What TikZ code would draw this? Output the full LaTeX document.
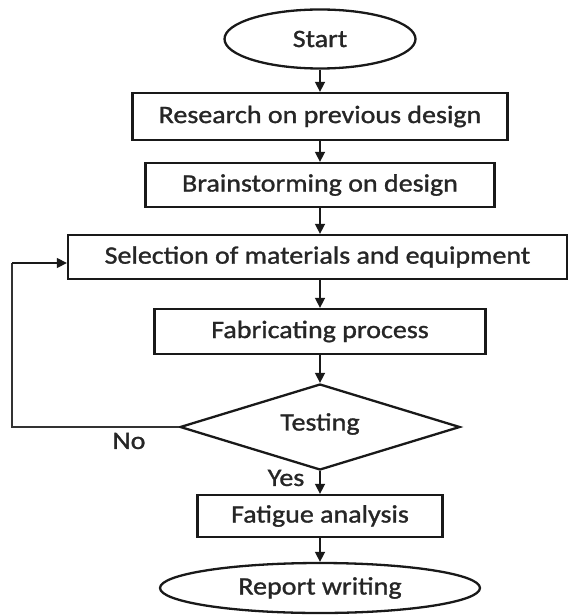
\documentclass[tikz,border=0pt]{standalone}
\usepackage{fontspec}
\setmainfont[FakeStretch=1.12,FakeBold=1.2]{Carlito}
\usetikzlibrary{shapes.geometric,arrows.meta}
\begin{document}
\begin{tikzpicture}[x=1pt,y=-1pt,
  every node/.style={font=\fontsize{25}{28}\selectfont, text=black!85},
  procbox/.style={draw=black!90, line width=2.3pt, rectangle, inner sep=0pt},
  termin/.style={draw=black!90, line width=2.3pt, ellipse, inner sep=0pt},
  decis/.style={draw=black!90, line width=2.3pt, diamond, inner sep=0pt},
  flow/.style={draw=black!90, line width=1.6pt, -{Triangle[length=10pt,width=10pt]}},
  loopline/.style={draw=black!80, line width=1.3pt},
  lbl/.style={inner sep=0pt}]
\useasboundingbox (0,0) rectangle (572,615);
\node[termin, minimum width=191pt, minimum height=59pt] (start) at (320,39) {Start};
\node[procbox, minimum width=375pt, minimum height=47pt] (res) at (320,116.5) {Research on previous design};
\node[procbox, minimum width=349pt, minimum height=44pt] (brain) at (320,185) {Brainstorming on design};
\node[procbox, minimum width=499pt, minimum height=44pt] (sel) at (317.5,257) {Selection of materials and equipment};
\node[procbox, minimum width=331pt, minimum height=45pt] (fab) at (320,331.5) {Fabricating process};
\node[decis, minimum width=280pt, minimum height=86pt, aspect=3.26] (test) at (320,427) {};
\node[lbl] (testtxt) at (320,424) {Testing};
\node[procbox, minimum width=245pt, minimum height=42pt] (fat) at (320,516) {Fatigue analysis};
\node[termin, minimum width=320pt, minimum height=50pt] (rep) at (320,588) {Report writing};
\node[lbl] (no) at (129,441) {No};
\node[lbl] (yes) at (286,478) {Yes};
\coordinate (c1) at (12,427);
\coordinate (c2) at (12,263);
\coordinate (c3) at (sel.west |- c2);
\draw[flow] (start.south -| 320,0) -- (res.north -| 320,0);
\draw[flow] (res.south -| 320,0) -- (brain.north -| 320,0);
\draw[flow] (brain.south -| 320,0) -- (sel.north -| 320,0);
\draw[flow] (sel.south -| 320,0) -- (fab.north -| 320,0);
\draw[flow] (fab.south) -- (test.north);
\draw[flow] (test.south) -- (fat.north);
\draw[flow] (fat.south) -- (rep.north);
\draw[loopline] (test.west) -- (c1) -- (c2);
\draw[flow, line width=1.3pt] (c2) -- (c3);
\end{tikzpicture}
\end{document}
